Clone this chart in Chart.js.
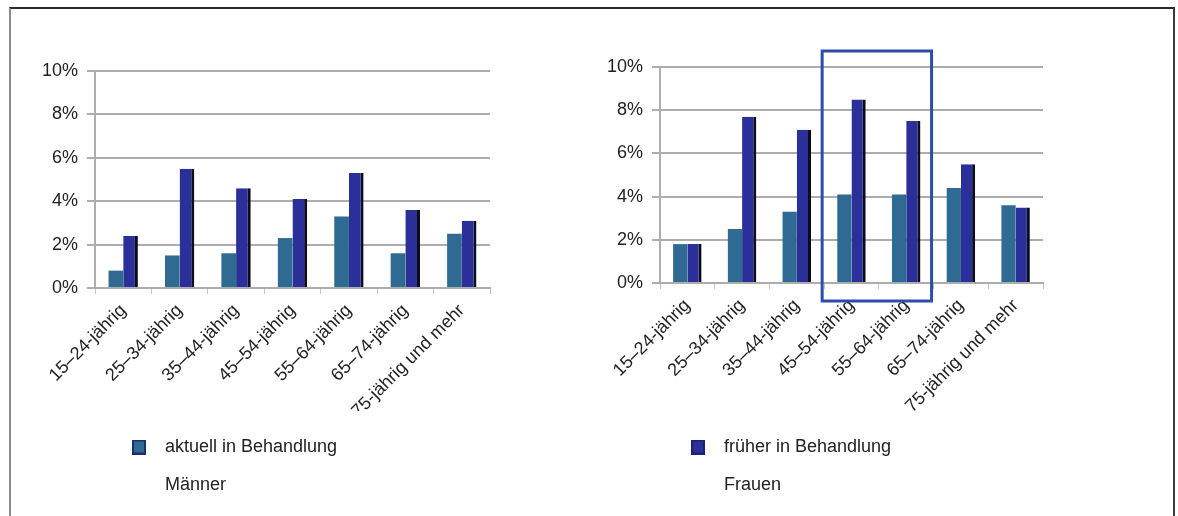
<!DOCTYPE html>
<html lang="de">
<head>
<meta charset="UTF-8">
<title>Behandlung nach Altersgruppen</title>
<script src="https://cdn.jsdelivr.net/npm/chart.js"></script>
<style>
    body { margin: 0; background: #fff; }
    #wrap { position: relative; width: 1178px; height: 516px; overflow: hidden; }
    #frame {
        position: absolute; left: 9px; top: 7px; width: 1166px; height: 520px;
        box-sizing: border-box;
        border-top: 2px solid #2b2b2b;
        border-left: 2px solid #8c8c8c;
        border-right: 2px solid #3a3a3a;
    }
    canvas { position: absolute; top: 0; }
    #men { left: 0; }
    #women { left: 585px; }
</style>
</head>
<body>
<div id="wrap">
    <div id="frame"></div>
    <canvas id="men" width="585" height="516"></canvas>
    <canvas id="women" width="593" height="516"></canvas>
</div>
<script>
// data (percent)
const ageGroups = ['15–24-jährig', '25–34-jährig', '35–44-jährig', '45–54-jährig', '55–64-jährig', '65–74-jährig', '75-jährig und mehr'];
const menCurrent = [0.8, 1.5, 1.6, 2.3, 3.3, 1.6, 2.5];
const menFormer = [2.4, 5.5, 4.6, 4.1, 5.3, 3.6, 3.1];
const womenCurrent = [1.8, 2.5, 3.3, 4.1, 4.1, 4.4, 3.6];
const womenFormer = [1.8, 7.7, 7.1, 8.5, 7.5, 5.5, 3.5];
const seriesNames = ['aktuell in Behandlung', 'früher in Behandlung'];
const highlightedGroups = ['45–54-jährig', '55–64-jährig'];
const yMax = 10;
const yStep = 2;

const FONT = "'Liberation Sans', Arial, sans-serif";
const TEAL = '#2e6a92';
const BLUE = '#2b2f9a';
const GRID = '#adadad';

function swatch(fill, edge) {
    const c = document.createElement('canvas');
    c.width = 14;
    c.height = 15;
    const g = c.getContext('2d');
    g.fillStyle = edge;
    g.fillRect(0, 0, 14, 15);
    g.fillStyle = fill;
    g.fillRect(2, 2, 10, 11);
    return c;
}

// "Männer" / "Frauen" line under the legend entry
const subtitlePlugin = {
    id: 'subtitle',
    afterDraw(chart, args, opts) {
        const hb = chart.legend && chart.legend.legendHitBoxes[0];
        if (!hb) return;
        const ctx = chart.ctx;
        ctx.save();
        ctx.font = '18px ' + FONT;
        ctx.fillStyle = '#222';
        ctx.textBaseline = 'middle';
        ctx.fillText(opts.text, hb.left + 43, hb.top + hb.height / 2 + 38);
        ctx.restore();
    }
};

// blue frame round some age groups
const highlightPlugin = {
    id: 'highlight',
    afterDraw(chart, args, opts) {
        if (!opts.groups || !opts.groups.length) return;
        const x = chart.scales.x;
        const idx = opts.groups.map(g => ageGroups.indexOf(g));
        const step = x.getPixelForValue(1) - x.getPixelForValue(0);
        const l = x.getPixelForValue(Math.min(...idx)) - step / 2 - 2;
        const r = x.getPixelForValue(Math.max(...idx)) + step / 2 - 2;
        const t = chart.chartArea.top - 16;
        const b = chart.chartArea.bottom + 18;
        const ctx = chart.ctx;
        ctx.save();
        ctx.strokeStyle = '#2c4cae';
        ctx.lineWidth = 3;
        ctx.strokeRect(l, t, r - l, b - t);
        ctx.restore();
    }
};

function makeChart(id, current, former, o) {
    return new Chart(document.getElementById(id), {
        type: 'bar',
        data: {
            labels: ageGroups,
            datasets: [{
                label: seriesNames[0],
                data: current,
                backgroundColor: TEAL,
                borderWidth: 0
            }, {
                label: seriesNames[1],
                data: former,
                backgroundColor: BLUE,
                borderColor: '#0c0c1c',
                borderWidth: { top: 0, left: 0, right: 3, bottom: 0 },
                borderSkipped: false
            }]
        },
        options: {
            responsive: false,
            animation: false,
            layout: { padding: o.padding },
            datasets: {
                bar: { barPercentage: 1.0, categoryPercentage: 0.52 }
            },
            scales: {
                x: {
                    afterFit: s => { s.height = o.xHeight; },
                    grid: { display: true, drawOnChartArea: false, drawTicks: true, tickLength: 6, color: '#c4c4c4', offset: true },
                    border: { display: true, color: GRID, width: 2 },
                    ticks: {
                        autoSkip: false,
                        minRotation: 45,
                        maxRotation: 45,
                        padding: 6,
                        color: '#222',
                        font: { family: FONT, size: 18 }
                    }
                },
                y: {
                    min: 0,
                    max: yMax,
                    afterFit: s => { s.width = 55; },
                    grid: { color: GRID, lineWidth: 2, tickLength: 8 },
                    border: { display: true, color: GRID, width: 2 },
                    ticks: {
                        stepSize: yStep,
                        padding: 9,
                        color: '#222',
                        font: { family: FONT, size: 18 },
                        callback: v => v + '%'
                    }
                }
            },
            plugins: {
                legend: {
                    position: 'bottom',
                    align: 'start',
                    fullSize: false,
                    labels: {
                        filter: item => item.datasetIndex === o.legendIndex,
                        usePointStyle: true,
                        pointStyle: o.swatch,
                        pointStyleWidth: 34,
                        padding: o.legendPad,
                        color: '#222',
                        font: { family: FONT, size: 18 }
                    }
                },
                tooltip: { enabled: false },
                subtitle: { text: o.subtitle },
                highlight: { groups: o.highlight || [] }
            }
        },
        plugins: [subtitlePlugin, highlightPlugin]
    });
}

makeChart('men', menCurrent, menFormer, {
    padding: { left: 40, top: 71, right: 95, bottom: 50 },
    xHeight: 123,
    legendPad: 27,
    legendIndex: 0,
    swatch: swatch(TEAL, '#1d2f6e'),
    subtitle: 'Männer'
});

makeChart('women', womenCurrent, womenFormer, {
    padding: { left: 20, top: 67, right: 135, bottom: 50 },
    xHeight: 134,
    legendPad: 21,
    legendIndex: 1,
    swatch: swatch(BLUE, '#1e2170'),
    subtitle: 'Frauen',
    highlight: highlightedGroups
});
</script>
</body>
</html>
